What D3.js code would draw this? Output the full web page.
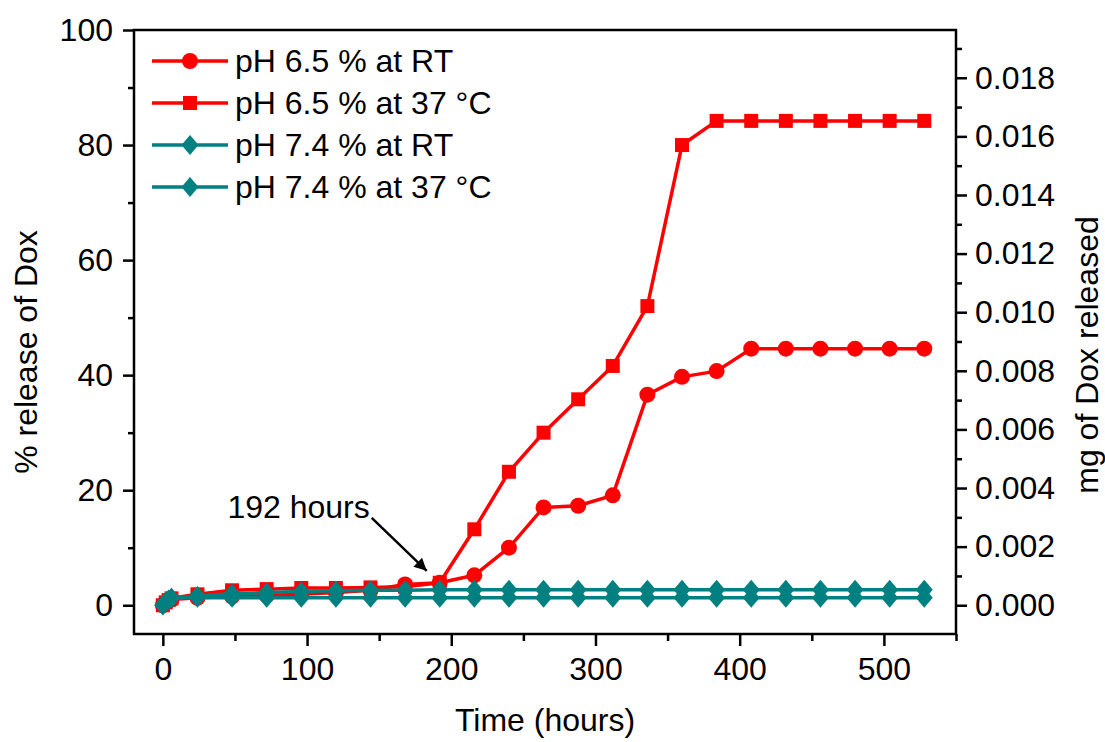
<!DOCTYPE html>
<html>
<head>
<meta charset="utf-8">
<script src="https://cdn.jsdelivr.net/npm/d3@7"></script>
<style>
  body { margin: 0; background: #fff; }
  svg { display: block; font-family: "Liberation Sans", Arial, sans-serif; }
</style>
</head>
<body>
<div id="chart"></div>
<script>
const hours = [0, 2, 4, 6, 24, 48, 72, 96, 120, 144, 168, 192, 216, 240, 264, 288, 312, 336, 360, 384, 408, 432, 456, 480, 504, 528];

const ph65RT = [0, 0.4, 0.8, 1.0, 1.3, 1.5, 1.7, 1.9, 2.2, 2.6, 3.6, 3.9, 5.2, 10.0, 17.0, 17.3, 19.1, 36.6, 39.7, 40.7, 44.6, 44.6, 44.6, 44.6, 44.6, 44.6];
const ph6537 = [0, 0.5, 0.9, 1.2, 1.9, 2.6, 2.8, 3.0, 3.0, 3.1, 3.2, 3.9, 13.2, 23.2, 30.0, 35.8, 41.6, 52.0, 80.0, 84.2, 84.2, 84.2, 84.2, 84.2, 84.2, 84.2];
const ph74RT = [0, 0.5, 0.9, 1.2, 1.3, 1.3, 1.3, 1.3, 1.3, 1.3, 1.3, 1.3, 1.3, 1.3, 1.3, 1.3, 1.3, 1.3, 1.3, 1.3, 1.3, 1.3, 1.3, 1.3, 1.3, 1.3];
const ph7437 = [0, 0.6, 1.0, 1.3, 1.6, 2.0, 2.2, 2.4, 2.5, 2.6, 2.6, 2.7, 2.7, 2.7, 2.7, 2.7, 2.7, 2.7, 2.7, 2.7, 2.7, 2.7, 2.7, 2.7, 2.7, 2.7];

const seriesNames = ['pH 6.5 % at RT', 'pH 6.5 % at 37 \u00B0C', 'pH 7.4 % at RT', 'pH 7.4 % at 37 \u00B0C'];
const seriesValues = [ph65RT, ph6537, ph74RT, ph7437];
const seriesColors = ['#ff0000', '#ff0000', '#008080', '#008080'];
const seriesMarkers = ['circle', 'square', 'diamond', 'diamond'];

const xTicks = [0, 100, 200, 300, 400, 500];
const xMinorTicks = [50, 150, 250, 350, 450, 550];
const yTicks = [0, 20, 40, 60, 80, 100];
const yMinorTicks = [10, 30, 50, 70, 90];
const mgTicks = [0, 0.002, 0.004, 0.006, 0.008, 0.010, 0.012, 0.014, 0.016, 0.018];
const mgMinorTicks = [0.001, 0.003, 0.005, 0.007, 0.009, 0.011, 0.013, 0.015, 0.017, 0.019];

// mg of Dox that matches 100 % release
const mgPerHundred = 0.01963;

const annotation = { text: '192 hours', hour: 192, value: 3.9 };

const width = 1105;
const height = 742;
const plotLeft = 134, plotRight = 956, plotTop = 30, plotBottom = 634;
const fontSize = 32;

const svg = d3.select('#chart').append('svg')
  .attr('width', width)
  .attr('height', height);

const x = d3.scaleLinear().domain([-20, 550]).range([plotLeft, plotRight]);
const y = d3.scaleLinear().domain([-5, 100]).range([plotBottom, plotTop]);
const yMg = d3.scaleLinear()
  .domain([-5 * mgPerHundred / 100, mgPerHundred])
  .range([plotBottom, plotTop]);

function markerPath(type) {
  if (type === 'circle') return d3.symbol(d3.symbolCircle, Math.PI * 8 * 8)();
  if (type === 'square') return 'M-7,-7H7V7H-7Z';
  return 'M0,-10L8.5,0L0,10L-8.5,0Z';
}

// frame
svg.append('rect')
  .attr('x', plotLeft).attr('y', plotTop)
  .attr('width', plotRight - plotLeft).attr('height', plotBottom - plotTop)
  .attr('fill', 'none').attr('stroke', '#000').attr('stroke-width', 2.5);

function styleAxis(g) {
  g.select('.domain').remove();
  g.selectAll('.tick line').attr('stroke', '#000').attr('stroke-width', 2.5);
  g.selectAll('.tick text')
    .attr('fill', '#000')
    .attr('font-size', fontSize)
    .attr('font-family', '"Liberation Sans", Arial, sans-serif');
}

// x axis
svg.append('g')
  .attr('transform', `translate(0,${plotBottom})`)
  .call(d3.axisBottom(x).tickValues(xTicks).tickSize(12).tickPadding(11))
  .call(styleAxis);
svg.append('g')
  .attr('transform', `translate(0,${plotBottom})`)
  .call(d3.axisBottom(x).tickValues(xMinorTicks).tickSize(7).tickFormat(''))
  .call(styleAxis);

// left axis
svg.append('g')
  .attr('transform', `translate(${plotLeft},0)`)
  .call(d3.axisLeft(y).tickValues(yTicks).tickSize(11).tickPadding(10))
  .call(styleAxis);
svg.append('g')
  .attr('transform', `translate(${plotLeft},0)`)
  .call(d3.axisLeft(y).tickValues(yMinorTicks).tickSize(6).tickFormat(''))
  .call(styleAxis);

// right axis
svg.append('g')
  .attr('transform', `translate(${plotRight},0)`)
  .call(d3.axisRight(yMg).tickValues(mgTicks).tickSize(11).tickPadding(8).tickFormat(d3.format('.3f')))
  .call(styleAxis);
svg.append('g')
  .attr('transform', `translate(${plotRight},0)`)
  .call(d3.axisRight(yMg).tickValues(mgMinorTicks).tickSize(6).tickFormat(''))
  .call(styleAxis);

// axis titles
svg.append('text')
  .attr('x', (plotLeft + plotRight) / 2)
  .attr('y', 731)
  .attr('text-anchor', 'middle')
  .attr('font-size', fontSize)
  .text('Time (hours)');

svg.append('text')
  .attr('transform', 'translate(37,352) rotate(-90)')
  .attr('text-anchor', 'middle')
  .attr('font-size', fontSize)
  .text('% release of Dox');

svg.append('text')
  .attr('transform', 'translate(1098,355) rotate(-90)')
  .attr('text-anchor', 'middle')
  .attr('font-size', fontSize)
  .text('mg of Dox released');

// series
const line = d3.line()
  .x(d => x(d[0]))
  .y(d => y(d[1]));

seriesValues.forEach((values, i) => {
  const points = hours.map((h, j) => [h, values[j]]);
  const g = svg.append('g');
  g.append('path')
    .datum(points)
    .attr('d', line)
    .attr('fill', 'none')
    .attr('stroke', seriesColors[i])
    .attr('stroke-width', 3.5)
    .attr('stroke-linejoin', 'round');
  g.selectAll('path.marker')
    .data(points)
    .enter().append('path')
    .attr('class', 'marker')
    .attr('d', markerPath(seriesMarkers[i]))
    .attr('transform', d => `translate(${x(d[0])},${y(d[1])})`)
    .attr('fill', seriesColors[i]);
});

// annotation with arrow
svg.append('defs').append('marker')
  .attr('id', 'arrow')
  .attr('viewBox', '0 0 10 10')
  .attr('refX', 10).attr('refY', 5)
  .attr('markerWidth', 6).attr('markerHeight', 5)
  .attr('markerUnits', 'strokeWidth')
  .attr('orient', 'auto')
  .append('path')
  .attr('d', 'M0,0L10,5L0,10Z')
  .attr('fill', '#000');

const tipX = x(annotation.hour) - 13;
const tipY = y(annotation.value) - 12;
svg.append('line')
  .attr('x1', tipX - 55).attr('y1', tipY - 53)
  .attr('x2', tipX).attr('y2', tipY)
  .attr('stroke', '#000')
  .attr('stroke-width', 2.5)
  .attr('marker-end', 'url(#arrow)');
svg.append('text')
  .attr('x', tipX - 57)
  .attr('y', tipY - 53)
  .attr('text-anchor', 'end')
  .attr('font-size', fontSize)
  .text(annotation.text);

// legend
const legend = svg.append('g').attr('transform', 'translate(152,61)');
seriesNames.forEach((name, i) => {
  const row = legend.append('g').attr('transform', `translate(0,${i * 42})`);
  row.append('line')
    .attr('x1', 0).attr('x2', 76)
    .attr('stroke', seriesColors[i])
    .attr('stroke-width', 3.5);
  row.append('path')
    .attr('d', markerPath(seriesMarkers[i]))
    .attr('transform', 'translate(38,0)')
    .attr('fill', seriesColors[i]);
  row.append('text')
    .attr('x', 83)
    .attr('y', 11)
    .attr('font-size', 32)
    .text(name);
});
</script>
</body>
</html>
